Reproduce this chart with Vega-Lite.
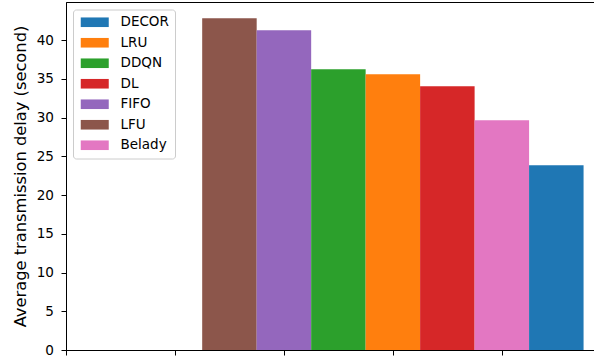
{
  "$schema": "https://vega.github.io/schema/vega-lite/v6.json",
  "autosize": "none",
  "width": 529,
  "height": 348,
  "padding": {"left": 66, "top": 2, "right": 0, "bottom": 10},
  "background": "white",
  "config": {
    "font": "DejaVu Sans",
    "view": {"stroke": "black", "strokeWidth": 1},
    "axis": {
      "grid": false,
      "domainColor": "black",
      "domainWidth": 1,
      "tickColor": "black",
      "tickWidth": 1,
      "tickSize": 5,
      "labelFont": "DejaVu Sans",
      "labelFontSize": 13.6,
      "labelColor": "black",
      "titleFont": "DejaVu Sans",
      "titleFontSize": 16.3,
      "titleFontWeight": "normal",
      "titleColor": "black"
    },
    "legend": {
      "strokeWidth": 1,
      "cornerRadius": 3
    }
  },
  "data": {
    "values": [
      {"policy": "LFU", "rank": 0, "delay": 42.84},
      {"policy": "FIFO", "rank": 1, "delay": 41.29},
      {"policy": "DDQN", "rank": 2, "delay": 36.26},
      {"policy": "LRU", "rank": 3, "delay": 35.61},
      {"policy": "DL", "rank": 4, "delay": 34.06},
      {"policy": "Belady", "rank": 5, "delay": 29.68},
      {"policy": "DECOR", "rank": 6, "delay": 23.87}
    ]
  },
  "mark": {"type": "bar", "size": 54.5},
  "encoding": {
    "x": {
      "field": "rank",
      "type": "quantitative",
      "scale": {"domain": [-3, 6.71], "nice": false, "zero": false, "padding": 0},
      "axis": {"values": [-3, -1, 1, 3, 5], "labels": false, "title": null}
    },
    "y": {
      "field": "delay",
      "type": "quantitative",
      "scale": {"domain": [0, 44.94], "nice": false, "padding": 0},
      "axis": {
        "values": [0, 5, 10, 15, 20, 25, 30, 35, 40],
        "labelPadding": 7.5,
        "title": "Average transmission delay (second)",
        "titlePadding": 8
      }
    },
    "color": {
      "field": "policy",
      "type": "nominal",
      "scale": {
        "domain": ["DECOR", "LRU", "DDQN", "DL", "FIFO", "LFU", "Belady"],
        "range": ["#1f77b4", "#ff7f0e", "#2ca02c", "#d62728", "#9467bd", "#8c564b", "#e377c2"]
      },
      "legend": {
        "title": null,
        "orient": "none",
        "legendX": 7,
        "legendY": 7.5,
        "padding": 6,
        "rowPadding": 5.5,
        "symbolType": "M-2.8,-0.96H2.8V0.96H-2.8Z",
        "symbolSize": 100,
        "symbolStrokeWidth": 0,
        "symbolOffset": 9,
        "labelOffset": 19,
        "labelFont": "DejaVu Sans",
        "labelFontSize": 13.5,
        "labelColor": "black",
        "fillColor": "rgba(255,255,255,0.8)",
        "strokeColor": "#cccccc"
      }
    }
  }
}
